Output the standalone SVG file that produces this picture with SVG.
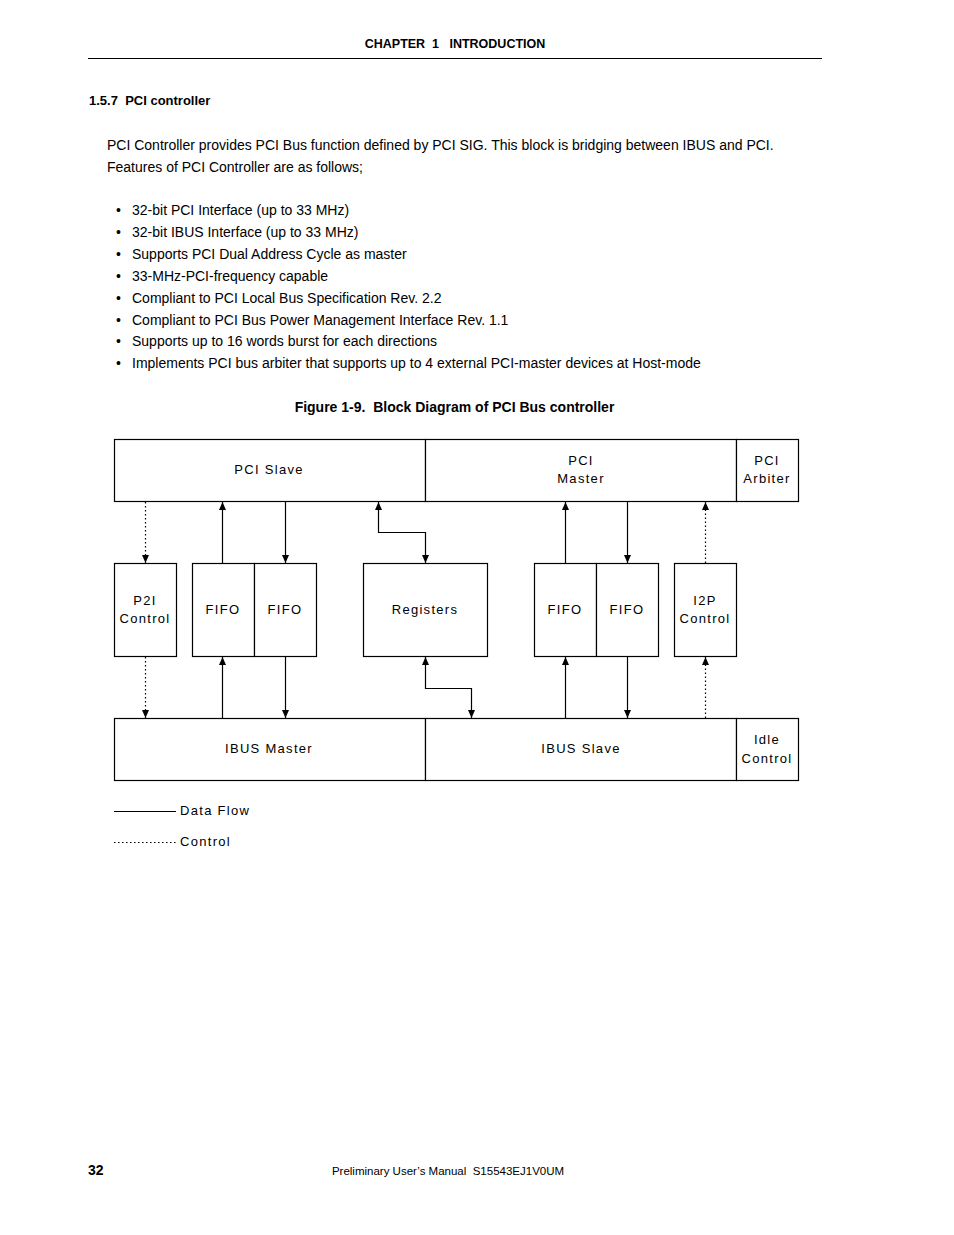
<svg xmlns="http://www.w3.org/2000/svg" width="954" height="1235" viewBox="0 0 954 1235">
<style>
text{font-family:"Liberation Sans",Arial,sans-serif;fill:#000;white-space:pre}
.b{font-weight:bold}
.p{font-size:14px}
.d{font-size:13px;letter-spacing:1.3px;text-anchor:middle}
.box{fill:#fff;stroke:#000;stroke-width:1.2}
.s{fill:none;stroke:#000;stroke-width:1.2}
.c{fill:none;stroke:#000;stroke-width:1.2;stroke-dasharray:1.5 2.5}
</style>
<defs>
<marker id="ah" viewBox="0 0 8 8" refX="8" refY="4" markerWidth="8" markerHeight="8" markerUnits="userSpaceOnUse" orient="auto-start-reverse">
<path d="M0,0.5 L8,4 L0,7.5 Z" fill="#000"/>
</marker>
</defs>
<rect width="954" height="1235" fill="#fff"/>
<text x="455" y="48" class="b" font-size="12.5" text-anchor="middle" xml:space="preserve">CHAPTER  1   INTRODUCTION</text>
<line x1="88" y1="58.5" x2="822" y2="58.5" stroke="#000" stroke-width="1.2"/>
<text x="89" y="105" class="b" font-size="13" xml:space="preserve">1.5.7  PCI controller</text>
<text x="107" y="150" class="p">PCI Controller provides PCI Bus function defined by PCI SIG. This block is bridging between IBUS and PCI.</text>
<text x="107" y="172" class="p">Features of PCI Controller are as follows;</text>
<g class="p">
<text x="116" y="215" class="p">•</text><text x="132" y="215" class="p">32-bit PCI Interface (up to 33 MHz)</text>
<text x="116" y="237" class="p">•</text><text x="132" y="237" class="p">32-bit IBUS Interface (up to 33 MHz)</text>
<text x="116" y="259" class="p">•</text><text x="132" y="259" class="p">Supports PCI Dual Address Cycle as master</text>
<text x="116" y="281" class="p">•</text><text x="132" y="281" class="p">33-MHz-PCI-frequency capable</text>
<text x="116" y="303" class="p">•</text><text x="132" y="303" class="p">Compliant to PCI Local Bus Specification Rev. 2.2</text>
<text x="116" y="325" class="p">•</text><text x="132" y="325" class="p">Compliant to PCI Bus Power Management Interface Rev. 1.1</text>
<text x="116" y="346" class="p">•</text><text x="132" y="346" class="p">Supports up to 16 words burst for each directions</text>
<text x="116" y="368" class="p">•</text><text x="132" y="368" class="p">Implements PCI bus arbiter that supports up to 4 external PCI-master devices at Host-mode</text>
</g>
<text x="454.5" y="412" class="b" font-size="14" text-anchor="middle" xml:space="preserve">Figure 1-9.  Block Diagram of PCI Bus controller</text>

<g id="pci-slave"><rect x="114.5" y="439.5" width="311" height="62" class="box"/><text x="269" y="474" class="d">PCI Slave</text></g>
<g id="pci-master"><rect x="425.5" y="439.5" width="311" height="62" class="box"/><text x="581" y="465" class="d">PCI</text><text x="581" y="483" class="d">Master</text></g>
<g id="pci-arbiter"><rect x="736.5" y="439.5" width="62" height="62" class="box"/><text x="767" y="465" class="d">PCI</text><text x="767" y="483" class="d">Arbiter</text></g>

<g id="p2i"><rect x="114.5" y="563.5" width="62" height="93" class="box"/><text x="145" y="605" class="d">P2I</text><text x="145" y="623" class="d">Control</text></g>
<g id="fifo1"><rect x="192.5" y="563.5" width="62" height="93" class="box"/><text x="223" y="614" class="d">FIFO</text></g>
<g id="fifo2"><rect x="254.5" y="563.5" width="62" height="93" class="box"/><text x="285" y="614" class="d">FIFO</text></g>
<g id="registers"><rect x="363.5" y="563.5" width="124" height="93" class="box"/><text x="425" y="614" class="d">Registers</text></g>
<g id="fifo3"><rect x="534.5" y="563.5" width="62" height="93" class="box"/><text x="565" y="614" class="d">FIFO</text></g>
<g id="fifo4"><rect x="596.5" y="563.5" width="62" height="93" class="box"/><text x="627" y="614" class="d">FIFO</text></g>
<g id="i2p"><rect x="674.5" y="563.5" width="62" height="93" class="box"/><text x="705" y="605" class="d">I2P</text><text x="705" y="623" class="d">Control</text></g>

<g id="ibus-master"><rect x="114.5" y="718.5" width="311" height="62" class="box"/><text x="269" y="753" class="d">IBUS Master</text></g>
<g id="ibus-slave"><rect x="425.5" y="718.5" width="311" height="62" class="box"/><text x="581" y="753" class="d">IBUS Slave</text></g>
<g id="idle"><rect x="736.5" y="718.5" width="62" height="62" class="box"/><text x="767" y="744" class="d">Idle</text><text x="767" y="763" class="d">Control</text></g>

<g id="connectors">
<line x1="145.5" y1="502" x2="145.5" y2="563" class="c" marker-end="url(#ah)"/>
<line x1="145.5" y1="657" x2="145.5" y2="718" class="c" marker-end="url(#ah)"/>
<line x1="222.5" y1="563" x2="222.5" y2="502" class="s" marker-end="url(#ah)"/>
<line x1="222.5" y1="718" x2="222.5" y2="657" class="s" marker-end="url(#ah)"/>
<line x1="285.5" y1="502" x2="285.5" y2="563" class="s" marker-end="url(#ah)"/>
<line x1="285.5" y1="657" x2="285.5" y2="718" class="s" marker-end="url(#ah)"/>
<polyline points="378.5,502 378.5,532.5 425.5,532.5 425.5,563" class="s" marker-start="url(#ah)" marker-end="url(#ah)"/>
<polyline points="425.5,657 425.5,688.5 471.5,688.5 471.5,718" class="s" marker-start="url(#ah)" marker-end="url(#ah)"/>
<line x1="565.5" y1="563" x2="565.5" y2="502" class="s" marker-end="url(#ah)"/>
<line x1="565.5" y1="718" x2="565.5" y2="657" class="s" marker-end="url(#ah)"/>
<line x1="627.5" y1="502" x2="627.5" y2="563" class="s" marker-end="url(#ah)"/>
<line x1="627.5" y1="657" x2="627.5" y2="718" class="s" marker-end="url(#ah)"/>
<line x1="705.5" y1="563" x2="705.5" y2="502" class="c" marker-end="url(#ah)"/>
<line x1="705.5" y1="718" x2="705.5" y2="657" class="c" marker-end="url(#ah)"/>
</g>

<g id="legend">
<line x1="114" y1="811.5" x2="176" y2="811.5" class="s"/>
<text x="180" y="815" font-size="13" letter-spacing="1.3">Data Flow</text>
<line x1="114" y1="842.5" x2="177" y2="842.5" class="c"/>
<text x="180" y="846" font-size="13" letter-spacing="1.3">Control</text>
</g>

<text x="88" y="1175" class="b" font-size="14">32</text>
<text x="448" y="1175" font-size="11.5" text-anchor="middle" xml:space="preserve">Preliminary User’s Manual  S15543EJ1V0UM</text>
</svg>
